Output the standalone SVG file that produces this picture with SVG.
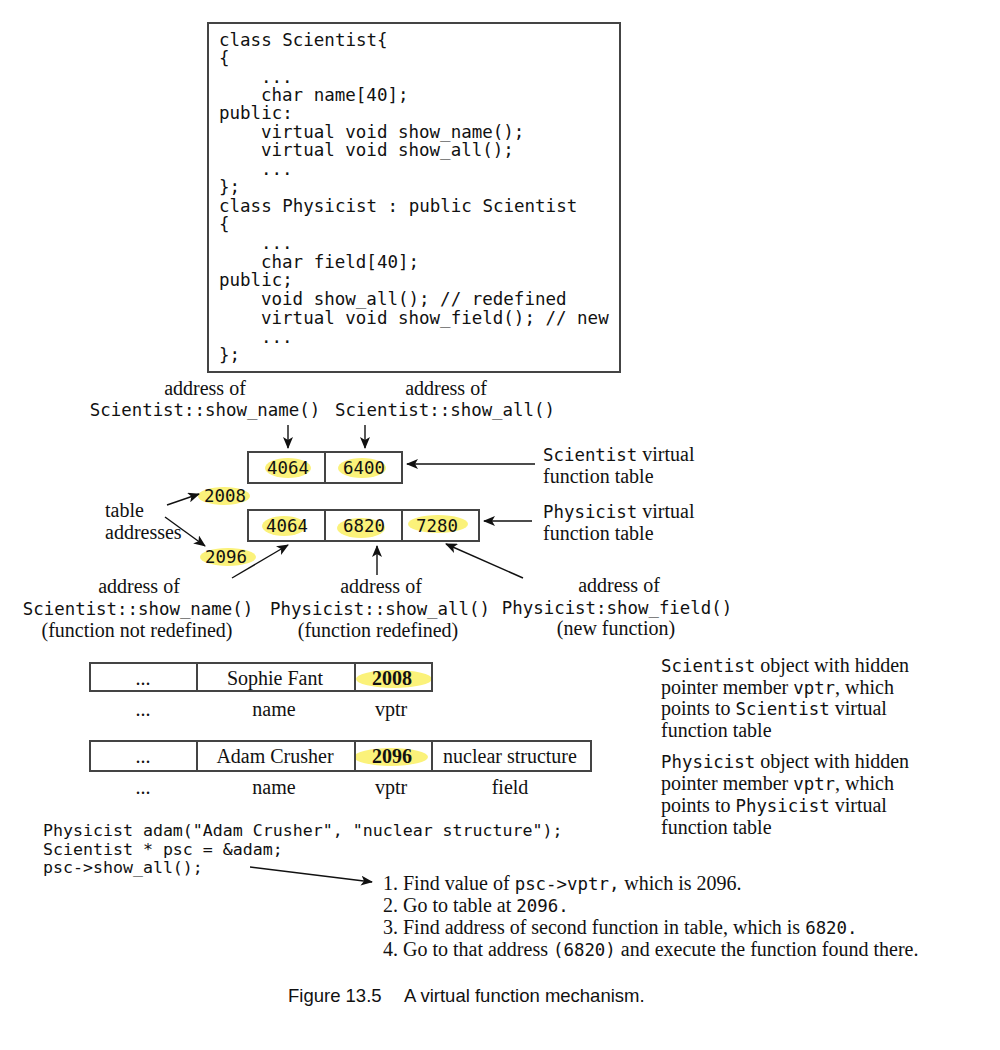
<svg xmlns="http://www.w3.org/2000/svg" width="1000" height="1050" viewBox="0 0 1000 1050">
<style>
.mono{font-family:"DejaVu Sans Mono","Liberation Mono",monospace;font-size:17.4px;fill:#111}
.code{font-family:"DejaVu Sans Mono","Liberation Mono",monospace;font-size:17.5px;fill:#111}
.serif{font-family:"Liberation Serif","Times New Roman",serif;font-size:20px;fill:#111}
.bold{font-family:"Liberation Serif",serif;font-size:20px;font-weight:bold;fill:#111}
.box{fill:none;stroke:#444;stroke-width:2}
.div{stroke:#444;stroke-width:2}
.hl{fill:#fbf27a}
.arr{stroke:#111;stroke-width:1.4;fill:none;marker-end:url(#ah)}
.mid{text-anchor:middle}
.cap{font-family:"Liberation Sans",Arial,sans-serif;font-size:18.5px;fill:#111}
</style>
<defs>
<marker id="ah" markerWidth="12" markerHeight="10" refX="11" refY="5" orient="auto" markerUnits="userSpaceOnUse">
<path d="M0,0 L12,5 L0,10 L3,5 Z" fill="#111"/>
</marker>
</defs>
<rect width="1000" height="1050" fill="#fff"/>

<g id="code-box">
<rect class="box" x="208" y="23" width="412" height="349"/>
<text class="code" x="219" y="46">class Scientist{</text>
<text class="code" x="219" y="64">{</text>
<text class="code" x="261" y="83">...</text>
<text class="code" x="261" y="101">char name[40];</text>
<text class="code" x="219" y="119">public:</text>
<text class="code" x="261" y="138">virtual void show_name();</text>
<text class="code" x="261" y="156">virtual void show_all();</text>
<text class="code" x="261" y="175">...</text>
<text class="code" x="219" y="193">};</text>
<text class="code" x="219" y="212">class Physicist : public Scientist</text>
<text class="code" x="219" y="230">{</text>
<text class="code" x="261" y="249">...</text>
<text class="code" x="261" y="268">char field[40];</text>
<text class="code" x="219" y="286">public;</text>
<text class="code" x="261" y="305">void show_all(); // redefined</text>
<text class="code" x="261" y="324">virtual void show_field(); // new</text>
<text class="code" x="261" y="343">...</text>
<text class="code" x="219" y="361">};</text>
</g>

<g id="label-sci-show-name">
<text class="serif mid" x="205" y="395">address of</text>
<text class="mono mid" x="205" y="416">Scientist::show_name()</text>
</g>
<g id="label-sci-show-all">
<text class="serif mid" x="446" y="395">address of</text>
<text class="mono mid" x="445" y="416">Scientist::show_all()</text>
</g>

<g id="scientist-vtable">
<ellipse class="hl" cx="288" cy="468" rx="23" ry="10"/>
<ellipse class="hl" cx="362" cy="468" rx="24" ry="10"/>
<rect class="box" x="248" y="452" width="154" height="31"/>
<line class="div" x1="325" y1="452" x2="325" y2="483"/>
<text class="mono mid" x="288" y="474">4064</text>
<text class="mono mid" x="364" y="474">6400</text>
</g>
<g id="label-sci-vtable">
<text class="serif" x="543" y="461"><tspan class="mono">Scientist</tspan> virtual</text>
<text class="serif" x="543" y="483">function table</text>
</g>

<g id="table-addresses">
<text class="serif" x="105" y="517">table</text>
<text class="serif" x="105" y="539">addresses</text>
<ellipse class="hl" cx="224" cy="496" rx="26" ry="9"/>
<text class="mono mid" x="225" y="502">2008</text>
<ellipse class="hl" cx="228" cy="557" rx="28" ry="9"/>
<text class="mono mid" x="226" y="563">2096</text>
</g>

<g id="physicist-vtable">
<ellipse class="hl" cx="284" cy="526" rx="22" ry="10"/>
<ellipse class="hl" cx="361" cy="528" rx="24" ry="10"/>
<ellipse class="hl" cx="438" cy="524" rx="30" ry="9"/>
<rect class="box" x="248" y="510" width="231" height="31"/>
<line class="div" x1="325" y1="510" x2="325" y2="541"/>
<line class="div" x1="402" y1="510" x2="402" y2="541"/>
<text class="mono mid" x="287" y="532">4064</text>
<text class="mono mid" x="364" y="532">6820</text>
<text class="mono mid" x="437" y="532">7280</text>
</g>
<g id="label-phy-vtable">
<text class="serif" x="543" y="518"><tspan class="mono">Physicist</tspan> virtual</text>
<text class="serif" x="543" y="540">function table</text>
</g>

<g id="label-not-redefined">
<text class="serif mid" x="139" y="593">address of</text>
<text class="mono mid" x="138" y="615">Scientist::show_name()</text>
<text class="serif mid" x="137" y="637">(function not redefined)</text>
</g>
<g id="label-redefined">
<text class="serif mid" x="381" y="593">address of</text>
<text class="mono mid" x="380" y="615">Physicist::show_all()</text>
<text class="serif mid" x="378" y="637">(function redefined)</text>
</g>
<g id="label-new">
<text class="serif mid" x="619" y="592">address of</text>
<text class="mono mid" x="617" y="614">Physicist:show_field()</text>
<text class="serif mid" x="616" y="635">(new function)</text>
</g>

<g id="scientist-object">
<ellipse class="hl" cx="394" cy="679" rx="38" ry="9"/>
<rect class="box" x="90" y="663" width="342" height="28"/>
<line class="div" x1="197" y1="663" x2="197" y2="691"/>
<line class="div" x1="355" y1="663" x2="355" y2="691"/>
<text class="serif mid" x="143" y="685">...</text>
<text class="serif mid" x="275" y="685">Sophie Fant</text>
<text class="bold mid" x="392" y="685">2008</text>
<text class="serif mid" x="143" y="716">...</text>
<text class="serif mid" x="274" y="716">name</text>
<text class="serif mid" x="391" y="716">vptr</text>
</g>

<g id="physicist-object">
<ellipse class="hl" cx="391" cy="757" rx="37" ry="9"/>
<rect class="box" x="90" y="741" width="501" height="30"/>
<line class="div" x1="197" y1="741" x2="197" y2="771"/>
<line class="div" x1="355" y1="741" x2="355" y2="771"/>
<line class="div" x1="432" y1="741" x2="432" y2="771"/>
<text class="serif mid" x="143" y="763">...</text>
<text class="serif mid" x="275" y="763">Adam Crusher</text>
<text class="bold mid" x="392" y="763">2096</text>
<text class="serif mid" x="510" y="763">nuclear structure</text>
<text class="serif mid" x="143" y="794">...</text>
<text class="serif mid" x="274" y="794">name</text>
<text class="serif mid" x="391" y="794">vptr</text>
<text class="serif mid" x="510" y="794">field</text>
</g>

<g id="label-sci-object">
<text class="serif" x="661" y="672"><tspan class="mono">Scientist</tspan> object with hidden</text>
<text class="serif" x="661" y="694">pointer member <tspan class="mono">vptr</tspan>, which</text>
<text class="serif" x="661" y="715">points to <tspan class="mono">Scientist</tspan> virtual</text>
<text class="serif" x="661" y="737">function table</text>
</g>
<g id="label-phy-object">
<text class="serif" x="661" y="768"><tspan class="mono">Physicist</tspan> object with hidden</text>
<text class="serif" x="661" y="790">pointer member <tspan class="mono">vptr</tspan>, which</text>
<text class="serif" x="661" y="812">points to <tspan class="mono">Physicist</tspan> virtual</text>
<text class="serif" x="661" y="834">function table</text>
</g>

<g id="bottom-code">
<text class="code" x="43" y="836" style="font-size:16.6px">Physicist adam("Adam Crusher", "nuclear structure");</text>
<text class="code" x="43" y="855" style="font-size:16.6px">Scientist * psc = &amp;adam;</text>
<text class="code" x="43" y="873" style="font-size:16.6px">psc-&gt;show_all();</text>
</g>

<g id="steps">
<text class="serif" x="383" y="890">1. Find value of <tspan class="mono">psc-&gt;vptr,</tspan> which is 2096.</text>
<text class="serif" x="383" y="912">2. Go to table at <tspan class="mono">2096.</tspan></text>
<text class="serif" x="383" y="934">3. Find address of second function in table, which is <tspan class="mono">6820.</tspan></text>
<text class="serif" x="383" y="956">4. Go to that address <tspan class="mono">(6820)</tspan> and execute the function found there.</text>
</g>

<g id="caption">
<text class="cap" x="288" y="1002">Figure 13.5<tspan x="404">A virtual function mechanism.</tspan></text>
</g>

<g id="connectors">
<line class="arr" x1="288" y1="425" x2="288" y2="448"/>
<line class="arr" x1="365" y1="425" x2="365" y2="448"/>
<line class="arr" x1="535" y1="464" x2="407" y2="464"/>
<line class="arr" x1="532" y1="521" x2="484" y2="521"/>
<line class="arr" x1="167" y1="505" x2="199" y2="494"/>
<line class="arr" x1="165" y1="517" x2="205" y2="546"/>
<line class="arr" x1="232" y1="578" x2="288" y2="545"/>
<line class="arr" x1="377" y1="575" x2="377" y2="546"/>
<line class="arr" x1="523" y1="578" x2="446" y2="544"/>
<line class="arr" x1="250" y1="867" x2="372" y2="882"/>
</g>
</svg>
